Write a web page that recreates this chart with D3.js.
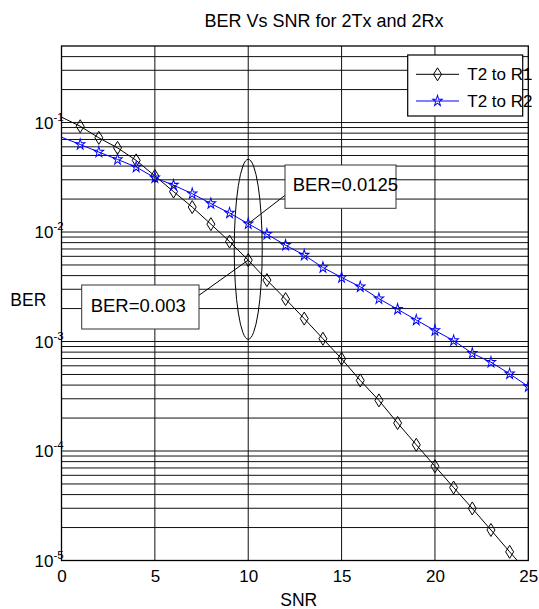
<!DOCTYPE html>
<html>
<head>
<meta charset="utf-8">
<script src="https://cdn.jsdelivr.net/npm/d3@7"></script>
<style>
  body { margin: 0; background: #fff; }
  svg { display: block; font-family: "Liberation Sans", Arial, sans-serif; }
</style>
</head>
<body>
<svg width="539" height="609"></svg>
<script>
// values
const snr = d3.range(0, 26);
const berR1 = [0.112, 0.0925, 0.0725, 0.0587, 0.0451, 0.0325, 0.0234, 0.0169, 0.0118, 0.00818,
  0.00554, 0.00364, 0.00244, 0.00162, 0.00106, 0.000695, 0.000441, 0.00029, 0.00018, 0.000114,
  0.0000726, 0.0000464, 0.0000299, 0.000019, 0.000012, 0.0000077];
const berR2 = [0.0735, 0.0631, 0.0537, 0.046, 0.0392, 0.0313, 0.0268, 0.0224, 0.0182, 0.0149,
  0.0119, 0.00955, 0.00758, 0.00615, 0.00474, 0.00385, 0.00316, 0.00246, 0.00197, 0.00157,
  0.00126, 0.00102, 0.00078, 0.000647, 0.000507, 0.000388];
const xTicks = [0, 5, 10, 15, 20, 25];
const yDecades = [-5, -4, -3, -2, -1];
const seriesNames = ["T2 to R1", "T2 to R2"];
const notes = ["BER=0.003", "BER=0.0125"];

const pLeft = 61.5, pRight = 528.3, pTop = 46, pBottom = 560.5;

const svg = d3.select("svg");

const x = d3.scaleLinear().domain([0, 25]).range([pLeft, pRight]);
const y = d3.scaleLog().domain([1e-5, 0.5]).range([pBottom, pTop]);

svg.append("defs").append("clipPath").attr("id", "plot")
  .append("rect")
  .attr("x", pLeft).attr("y", pTop)
  .attr("width", pRight - pLeft).attr("height", pBottom - pTop);

// grid
const minor = [];
yDecades.forEach(e => {
  for (let k = 1; k < 10; k++) {
    const v = k * Math.pow(10, e);
    if (v < 0.5) minor.push(v);
  }
});

svg.append("g")
  .selectAll("line")
  .data(minor)
  .join("line")
    .attr("x1", pLeft).attr("x2", pRight)
    .attr("y1", d => y(d)).attr("y2", d => y(d))
    .attr("stroke", "#111")
    .attr("stroke-width", 1);

svg.append("g")
  .selectAll("line")
  .data(xTicks.slice(1, -1))
  .join("line")
    .attr("x1", d => x(d)).attr("x2", d => x(d))
    .attr("y1", pTop).attr("y2", pBottom)
    .attr("stroke", "#111")
    .attr("stroke-width", 1);

// frame
svg.append("rect")
  .attr("x", pLeft).attr("y", pTop)
  .attr("width", pRight - pLeft).attr("height", pBottom - pTop)
  .attr("fill", "none")
  .attr("stroke", "#000")
  .attr("stroke-width", 1.3);

// axes labels
const xAxis = svg.append("g")
  .attr("transform", `translate(0,${pBottom})`)
  .call(d3.axisBottom(x).tickValues(xTicks).tickSize(0).tickPadding(9).tickFormat(d3.format("d")));
xAxis.select(".domain").remove();
xAxis.selectAll("text")
  .attr("fill", "#000")
  .style("font-size", "17px")
  .style("font-family", "'Liberation Sans', Arial, sans-serif");

const yLab = svg.append("g")
  .selectAll("text")
  .data(yDecades)
  .join("text")
    .attr("x", 34.5)
    .attr("y", d => y(Math.pow(10, d)) + 6)
    .style("font-size", "17px");
yLab.append("tspan").text("10");
yLab.append("tspan")
  .attr("dy", -8)
  .style("font-size", "11.5px")
  .text(d => d);

svg.append("text")
  .attr("x", 28.3).attr("y", 306)
  .attr("text-anchor", "middle")
  .style("font-size", "17.5px")
  .text("BER");

svg.append("text")
  .attr("x", 298.7).attr("y", 606)
  .attr("text-anchor", "middle")
  .style("font-size", "17.5px")
  .text("SNR");

svg.append("text")
  .attr("x", 324).attr("y", 27)
  .attr("text-anchor", "middle")
  .style("font-size", "18px")
  .text("BER Vs SNR for 2Tx and 2Rx");

// series
const diamond = "M0,-6.5L4,0L0,6.5L-4,0Z";
const star = d3.symbol().type(d3.symbolStar).size(28)();
const series = [
  { name: seriesNames[0], values: berR1, color: "#000", marker: diamond, sy: 1, sw: 1 },
  { name: seriesNames[1], values: berR2, color: "#0000ff", marker: star, sy: 1.15, sw: 0.9 }
];

const line = d3.line()
  .x((d, i) => x(snr[i]))
  .y(d => y(d));

const plot = svg.append("g").attr("clip-path", "url(#plot)");

series.forEach(s => {
  plot.append("path")
    .datum(s.values)
    .attr("d", line)
    .attr("fill", "none")
    .attr("stroke", s.color)
    .attr("stroke-width", 1);

  plot.append("g")
    .selectAll("path")
    .data(s.values.map((v, i) => [snr[i], v]).filter(d => d[0] >= 1))
    .join("path")
      .attr("d", s.marker)
      .attr("transform", d => `translate(${x(d[0])},${y(d[1])}) scale(1,${s.sy})`)
      .attr("fill", "none")
      .attr("stroke", s.color)
      .attr("stroke-width", s.sw);
});

// annotations
const ann = svg.append("g");
ann.append("ellipse")
  .attr("cx", x(10)).attr("cy", 249.3)
  .attr("rx", 14).attr("ry", 90)
  .attr("fill", "none")
  .attr("stroke", "#000")
  .attr("stroke-width", 1);

ann.append("line")
  .attr("x1", 198).attr("y1", 296)
  .attr("x2", x(10)).attr("y2", y(berR1[10]))
  .attr("stroke", "#000");
ann.append("line")
  .attr("x1", 288).attr("y1", 193)
  .attr("x2", x(10)).attr("y2", y(berR2[10]))
  .attr("stroke", "#000");

ann.append("rect")
  .attr("x", 81.7).attr("y", 285)
  .attr("width", 117.3).attr("height", 44)
  .attr("fill", "#fff")
  .attr("stroke", "#333");
ann.append("text")
  .attr("x", 90.7).attr("y", 311.7)
  .style("font-size", "18.5px")
  .text(notes[0]);

ann.append("rect")
  .attr("x", 285).attr("y", 165)
  .attr("width", 111).attr("height", 43.3)
  .attr("fill", "#fff")
  .attr("stroke", "#333");
ann.append("text")
  .attr("x", 292.7).attr("y", 190.7)
  .style("font-size", "18.5px")
  .text(notes[1]);

// legend
const lg = svg.append("g");
lg.append("rect")
  .attr("x", 407.7).attr("y", 55)
  .attr("width", 115).attr("height", 61)
  .attr("fill", "#fff")
  .attr("stroke", "#000")
  .attr("stroke-width", 1.2);

series.forEach((s, i) => {
  const ly = 74.3 + i * 26.7;
  lg.append("line")
    .attr("x1", 416).attr("x2", 459)
    .attr("y1", ly).attr("y2", ly)
    .attr("stroke", s.color);
  lg.append("path")
    .attr("d", s.marker)
    .attr("transform", `translate(437.5,${ly}) scale(1,${s.sy})`)
    .attr("fill", "none")
    .attr("stroke", s.color)
    .attr("stroke-width", s.sw);
  lg.append("text")
    .attr("x", 467.3).attr("y", ly + 5.5)
    .style("font-size", "17px")
    .text(s.name);
});
</script>
</body>
</html>
